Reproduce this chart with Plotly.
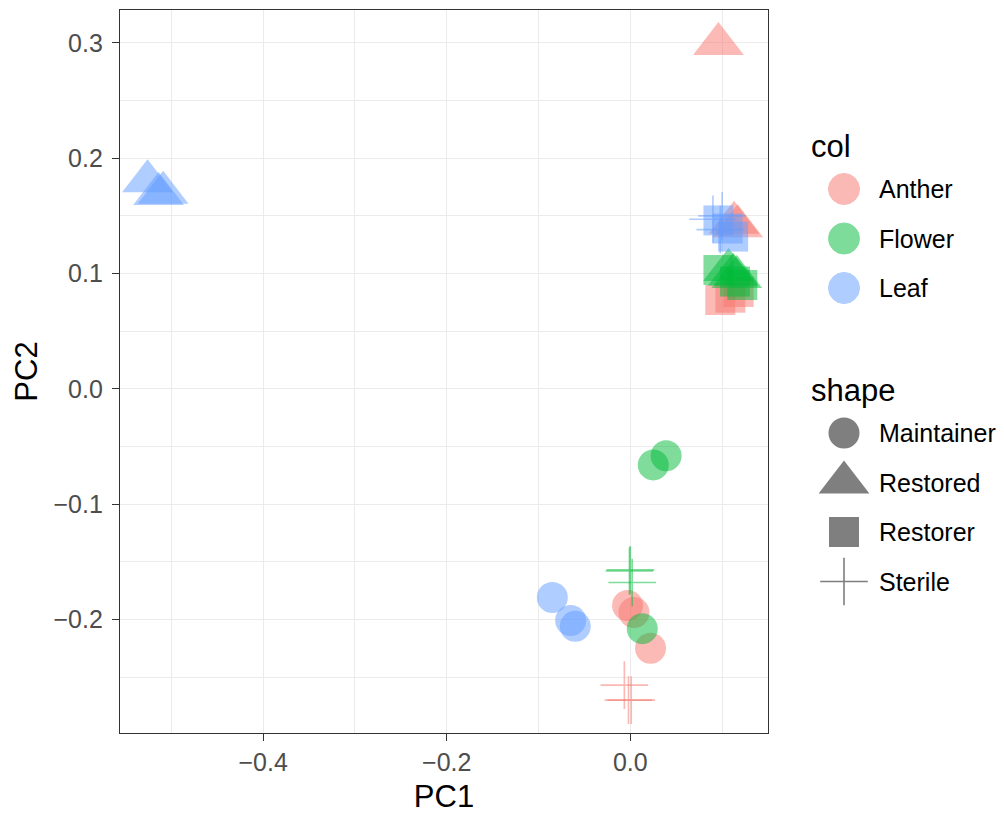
import plotly.graph_objects as go

# ---- data: PCA scores per sample ----
tissues = ["Anther", "Flower", "Leaf"]
types = ["Maintainer", "Restored", "Restorer", "Sterile"]

sample_tissue = (
    ["Anther"] * 12 + ["Flower"] * 12 + ["Leaf"] * 12
)
sample_type = (
    ["Maintainer"] * 3 + ["Restored"] * 3 + ["Restorer"] * 3 + ["Sterile"] * 3
) * 3

pc1 = [
    # Anther
    -0.003, 0.004, 0.022,
    0.096, 0.113, 0.117,
    0.098, 0.109, 0.118,
    -0.0065, -0.002, 0.001,
    # Flower
    0.025, 0.039, 0.013,
    0.112, 0.107, 0.116,
    0.096, 0.122, 0.114,
    -0.001, 0.000, 0.002,
    # Leaf
    -0.085, -0.065, -0.060,
    -0.526, -0.514, -0.509,
    0.096, 0.106, 0.112,
    0.090, 0.100, 0.098,
]
pc2 = [
    # Anther
    -0.188, -0.194, -0.225,
    0.299, 0.144, 0.141,
    0.077, 0.079, 0.084,
    -0.257, -0.270, -0.270,
    # Flower
    -0.066, -0.058, -0.208,
    0.099, 0.103, 0.097,
    0.103, 0.090, 0.093,
    -0.158, -0.157, -0.168,
    # Leaf
    -0.181, -0.201, -0.206,
    0.180, 0.169, 0.170,
    0.146, 0.139, 0.132,
    0.147, 0.150, 0.138,
]

x_ticks = [-0.4, -0.2, 0.0]
y_ticks = [-0.2, -0.1, 0.0, 0.1, 0.2, 0.3]

# ---- styling ----
tissue_colors = {"Anther": "#F8766D", "Flower": "#00BA38", "Leaf": "#619CFF"}
type_symbols = {
    "Maintainer": ("circle", 31),
    "Restored": ("triangle-up", 44),
    "Restorer": ("square", 30),
    "Sterile": ("cross-thin", 34),
}
ALPHA = 0.5
FONT = "Liberation Sans, Arial, sans-serif"
W, H = 1004, 814
ML, MR, MT, MB = 120, 236, 10, 81
panel_w = W - ML - MR
panel_h = H - MT - MB


def fmt(v):
    s = f"{v:.1f}"
    return s.replace("-", "\u2212")


def marker_style(symbol, size, color):
    if symbol == "cross-thin":
        return dict(symbol=symbol, size=size, opacity=ALPHA,
                    color=color, line=dict(color=color, width=1.6))
    return dict(symbol=symbol, size=size, opacity=ALPHA,
                color=color, line=dict(width=0))


fig = go.Figure()

for t in tissues:
    for s in types:
        idx = [i for i in range(len(pc1))
               if sample_tissue[i] == t and sample_type[i] == s]
        sym, size = type_symbols[s]
        fig.add_trace(go.Scatter(
            x=[pc1[i] for i in idx],
            y=[pc2[i] for i in idx],
            mode="markers",
            marker=marker_style(sym, size, tissue_colors[t]),
            showlegend=False,
            hoverinfo="x+y+name",
            name=f"{t} / {s}",
        ))

# ---- legend drawn on an auxiliary pixel-scaled axis ----
leg_w = MR
key_x, label_x, title_x = 76, 109, 41
step = 49.5
col_title_y, col_start = 136, 179
shape_title_y, shape_start = 380, 423

annotations = []
annotations.append(dict(x=title_x, y=col_title_y, xref="x2", yref="y2",
                        text="col", showarrow=False, xanchor="left",
                        yanchor="middle", font=dict(size=31, color="black", family=FONT)))
annotations.append(dict(x=title_x, y=shape_title_y, xref="x2", yref="y2",
                        text="shape", showarrow=False, xanchor="left",
                        yanchor="middle", font=dict(size=31, color="black", family=FONT)))

for k, t in enumerate(tissues):
    yk = col_start + k * step
    fig.add_trace(go.Scatter(
        x=[key_x], y=[yk], xaxis="x2", yaxis="y2", mode="markers",
        marker=dict(symbol="circle", size=31, color=tissue_colors[t], opacity=ALPHA,
                    line=dict(color=tissue_colors[t], width=1)),
        showlegend=False, hoverinfo="skip"))
    annotations.append(dict(x=label_x, y=yk, xref="x2", yref="y2", text=t,
                            showarrow=False, xanchor="left", yanchor="middle",
                            font=dict(size=25, color="black", family=FONT)))

for k, s in enumerate(types):
    yk = shape_start + k * step
    sym, size = type_symbols[s]
    fig.add_trace(go.Scatter(
        x=[key_x], y=[yk], xaxis="x2", yaxis="y2", mode="markers",
        marker=marker_style(sym, size, "#000000"),
        showlegend=False, hoverinfo="skip"))
    annotations.append(dict(x=label_x, y=yk, xref="x2", yref="y2", text=s,
                            showarrow=False, xanchor="left", yanchor="middle",
                            font=dict(size=25, color="black", family=FONT)))

axis_common = dict(
    showgrid=True, gridcolor="#EBEBEB", gridwidth=1.2,
    zeroline=False,
    ticks="outside", ticklen=7, tickwidth=1.1, tickcolor="#333333",
    tickfont=dict(size=25, color="#4D4D4D", family=FONT),
    showline=True, mirror=True, linecolor="#333333", linewidth=1.3,
)

fig.update_layout(
    width=W, height=H,
    margin=dict(l=ML, r=0, t=MT, b=MB),
    paper_bgcolor="white", plot_bgcolor="white",
    font=dict(family=FONT),
    showlegend=False,
    xaxis=dict(
        axis_common,
        domain=[0, panel_w / (W - ML)],
        range=[-0.556, 0.150],
        tickmode="array", tickvals=x_ticks, ticktext=[fmt(v) for v in x_ticks],
        minor=dict(tickmode="linear", tick0=0, dtick=0.1, showgrid=True,
                   gridcolor="#EBEBEB", gridwidth=0.7, ticks=""),
        title=dict(text="PC1", font=dict(size=31, color="black", family=FONT), standoff=10),
    ),
    yaxis=dict(
        axis_common,
        domain=[0, 1],
        range=[-0.2985, 0.3285],
        tickmode="array", tickvals=y_ticks, ticktext=[fmt(v) for v in y_ticks],
        ticklabelstandoff=4,
        minor=dict(tickmode="linear", tick0=0, dtick=0.05, showgrid=True,
                   gridcolor="#EBEBEB", gridwidth=0.7, ticks=""),
        title=dict(text="PC2", font=dict(size=31, color="black", family=FONT), standoff=6),
    ),
    xaxis2=dict(domain=[panel_w / (W - ML), 1], range=[0, leg_w], visible=False,
                anchor="y2", fixedrange=True),
    yaxis2=dict(domain=[0, 1], range=[panel_h, 0], visible=False,
                anchor="x2", fixedrange=True),
    annotations=annotations,
)

fig.write_html("out.html")
